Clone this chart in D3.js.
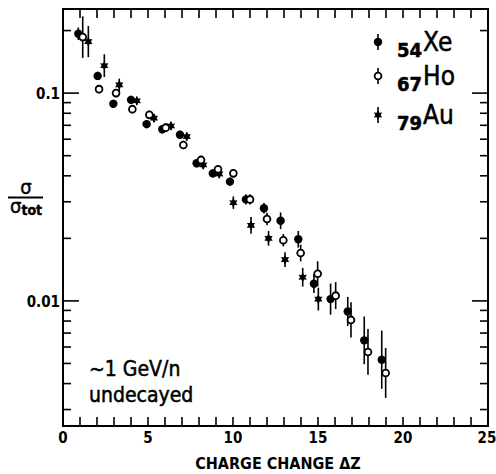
<!DOCTYPE html>
<html>
<head>
<meta charset="utf-8">
<script src="https://cdn.jsdelivr.net/npm/d3@7/dist/d3.min.js"></script>
<style>
  html, body { margin: 0; padding: 0; background: #fff; }
  svg { display: block; }
  text { font-family: "DejaVu Sans Condensed", "DejaVu Sans", sans-serif; fill: #000; }
</style>
</head>
<body>
<div id="chart"></div>
<script>
// Fragmentation cross sections vs charge change.
// Each series keeps its own ΔZ positions because the original offsets the
// three projectiles slightly to keep the symbols apart.

// --- data -----------------------------------------------------------------

const xeDZ  = [0.9, 2.04, 2.96, 4.0, 4.92, 5.84, 6.88, 7.86, 8.81, 9.82, 10.76, 11.82, 12.8, 13.84, 14.76, 15.74, 16.75, 17.72, 18.75];
const xeVal = [0.193, 0.121, 0.0888, 0.0928, 0.0709, 0.067, 0.063, 0.046, 0.0411, 0.0375, 0.0308, 0.0279, 0.0243, 0.0198, 0.0121, 0.0102, 0.0089, 0.00646, 0.00521];
const xeErr = [0.03, 0.02, 0.02, 0.02, 0.02, 0.02, 0.02, 0.02, 0.02, 0.02, 0.025, 0.025, 0.04, 0.04, 0.045, 0.075, 0.07, 0.115, 0.14]; // half-width, decades

const hoDZ  = [1.16, 2.12, 3.12, 4.08, 5.08, 6.04, 7.08, 8.12, 9.12, 10.02, 11.0, 12.0, 12.96, 13.98, 14.98, 16.04, 16.94, 17.94, 18.98];
const hoVal = [0.186, 0.1045, 0.1, 0.0837, 0.0786, 0.0682, 0.0563, 0.0477, 0.043, 0.0411, 0.0308, 0.0248, 0.0196, 0.017, 0.0135, 0.0106, 0.0081, 0.00568, 0.0045];
const hoErr = [0.1, 0.02, 0.02, 0.02, 0.02, 0.02, 0.02, 0.02, 0.02, 0.02, 0.025, 0.03, 0.03, 0.04, 0.06, 0.065, 0.085, 0.11, 0.12];

const auDZ  = [1.49, 2.43, 3.31, 4.34, 5.35, 6.35, 7.28, 8.25, 9.19, 10.02, 11.06, 12.09, 13.06, 14.1, 15.02];
const auVal = [0.177, 0.1355, 0.1096, 0.0918, 0.0758, 0.0695, 0.0618, 0.0451, 0.0408, 0.0297, 0.0231, 0.02, 0.0158, 0.013, 0.0102];
const auErr = [0.075, 0.055, 0.03, 0.02, 0.02, 0.02, 0.02, 0.02, 0.02, 0.03, 0.04, 0.035, 0.036, 0.045, 0.055];

const xTickLabels = [0, 5, 10, 15, 20, 25];
const xMinorTicks = d3.range(1, 25);
const yMajorTicks = [0.01, 0.1];
const yMajorLabels = ["0.01", "0.1"];
const yMinorTicks = [0.003, 0.004, 0.005, 0.006, 0.007, 0.008, 0.009,
                     0.02, 0.03, 0.04, 0.05, 0.06, 0.07, 0.08, 0.09, 0.2];

const legendZ    = ["54", "67", "79"];
const legendName = ["Xe", "Ho", "Au"];

// --- geometry -------------------------------------------------------------

const W = 496, H = 474;
const PLOT = { left: 63, right: 488, top: 9, bottom: 426 };

const x = d3.scaleLinear().domain([0, 25]).range([PLOT.left, PLOT.right]);
const y = d3.scaleLog().domain([0.0025, 0.254]).range([PLOT.bottom, PLOT.top]);

const svg = d3.select("#chart").append("svg")
    .attr("width", W)
    .attr("height", H)
    .attr("viewBox", `0 0 ${W} ${H}`);

// --- frame and ticks --------------------------------------------------------

const frame = svg.append("g").attr("stroke", "#000").attr("fill", "none");

frame.append("rect")
    .attr("x", PLOT.left)
    .attr("y", PLOT.top)
    .attr("width", PLOT.right - PLOT.left)
    .attr("height", PLOT.bottom - PLOT.top)
    .attr("stroke-width", 2);

// x ticks, bottom and top, pointing into the plot
xMinorTicks.forEach((t) => {
    frame.append("line")
        .attr("x1", x(t)).attr("x2", x(t))
        .attr("y1", PLOT.bottom).attr("y2", PLOT.bottom - 9)
        .attr("stroke-width", 1.6);
    frame.append("line")
        .attr("x1", x(t)).attr("x2", x(t))
        .attr("y1", PLOT.top).attr("y2", PLOT.top + 9)
        .attr("stroke-width", 1.6);
});

// y ticks, left and right
function yTick(v, len) {
    frame.append("line")
        .attr("x1", PLOT.left).attr("x2", PLOT.left + len)
        .attr("y1", y(v)).attr("y2", y(v))
        .attr("stroke-width", 1.6);
    frame.append("line")
        .attr("x1", PLOT.right).attr("x2", PLOT.right - len)
        .attr("y1", y(v)).attr("y2", y(v))
        .attr("stroke-width", 1.6);
}
yMinorTicks.forEach((v) => yTick(v, 8));
yMajorTicks.forEach((v) => yTick(v, 16));

// tick labels (the last one sits against the page edge, as in the scan)
svg.append("g")
    .selectAll("text")
    .data(xTickLabels)
    .enter()
    .append("text")
    .attr("x", (d) => Math.min(x(d), W - 9))
    .attr("y", 443)
    .attr("text-anchor", "middle")
    .attr("font-size", "15px")
    .attr("font-weight", "bold")
    .text((d) => d);

svg.append("g")
    .selectAll("text")
    .data(yMajorTicks)
    .enter()
    .append("text")
    .attr("x", PLOT.left - 3)
    .attr("y", (d) => y(d) + 6)
    .attr("text-anchor", "end")
    .attr("font-size", "15px")
    .attr("font-weight", "bold")
    .text((d, i) => yMajorLabels[i]);

// axis titles
svg.append("text")
    .attr("x", 278)
    .attr("y", 469)
    .attr("text-anchor", "middle")
    .attr("font-size", "16px")
    .attr("font-weight", "bold")
    .text("CHARGE CHANGE ΔZ");

const yl = svg.append("g");
yl.append("text")
    .attr("x", 26).attr("y", 194)
    .attr("text-anchor", "middle")
    .attr("font-size", "20px")
    .attr("stroke", "#000").attr("stroke-width", 0.4)
    .text("σ");
yl.append("line")
    .attr("x1", 8).attr("x2", 43)
    .attr("y1", 197.5).attr("y2", 197.5)
    .attr("stroke", "#000").attr("stroke-width", 2);
const tot = yl.append("text")
    .attr("x", 10).attr("y", 213)
    .attr("font-size", "20px")
    .attr("stroke", "#000").attr("stroke-width", 0.4);
tot.append("tspan").text("σ");
tot.append("tspan").attr("font-size", "14px").attr("font-weight", "bold").attr("dy", 2).text("tot");

// annotation
const note = svg.append("g")
    .attr("font-size", "21px")
    .attr("stroke", "#000")
    .attr("stroke-width", 0.5);
note.append("text").attr("x", 89).attr("y", 376).text("~1 GeV/n");
note.append("text").attr("x", 89).attr("y", 402).text("undecayed");

// --- markers ----------------------------------------------------------------

// six-pointed star used for the Au points
function hexagram(r) {
    const pts = [];
    for (let i = 0; i < 12; i++) {
        const a = -Math.PI / 2 + i * Math.PI / 6;
        const rr = i % 2 === 0 ? r : r * 0.55;
        pts.push([rr * Math.cos(a), rr * Math.sin(a)]);
    }
    return "M" + pts.map((p) => p.join(",")).join("L") + "Z";
}

function drawMarker(sel, kind) {
    if (kind === "filled") {
        sel.append("circle").attr("r", 4.2).attr("fill", "#000");
    } else if (kind === "open") {
        sel.append("circle").attr("r", 3.4)
            .attr("fill", "#fff").attr("stroke", "#000").attr("stroke-width", 1.8);
    } else {
        sel.append("path").attr("d", hexagram(4.8)).attr("fill", "#000");
    }
}

function drawSeries(dz, vals, errs, kind) {
    const pts = dz.map((d, i) => ({ dz: d, v: vals[i], e: errs[i] }));
    const g = svg.append("g");

    g.selectAll("line")
        .data(pts)
        .enter()
        .append("line")
        .attr("x1", (d) => x(d.dz))
        .attr("x2", (d) => x(d.dz))
        .attr("y1", (d) => y(d.v * Math.pow(10, d.e)))
        .attr("y2", (d) => y(d.v / Math.pow(10, d.e)))
        .attr("stroke", "#000")
        .attr("stroke-width", 1.6);

    g.selectAll("g")
        .data(pts)
        .enter()
        .append("g")
        .attr("transform", (d) => `translate(${x(d.dz)}, ${y(d.v)})`)
        .each(function () { drawMarker(d3.select(this), kind); });
}

drawSeries(auDZ, auVal, auErr, "star");
drawSeries(xeDZ, xeVal, xeErr, "filled");
drawSeries(hoDZ, hoVal, hoErr, "open");

// --- legend -----------------------------------------------------------------

const kinds = ["filled", "open", "star"];
const legendRowY = [42, 76, 115];

kinds.forEach((k, i) => {
    const g = svg.append("g").attr("transform", `translate(378, ${legendRowY[i]})`);
    g.append("line")
        .attr("y1", -8).attr("y2", 8)
        .attr("stroke", "#000").attr("stroke-width", 1.6);
    drawMarker(g, k);

    const t = svg.append("text")
        .attr("x", 397)
        .attr("y", legendRowY[i] + 15)
        .attr("stroke", "#000")
        .attr("stroke-width", 0.5);
    t.append("tspan").attr("font-size", "20px").attr("font-weight", "bold").text(legendZ[i]);
    t.append("tspan").attr("font-size", "26px").attr("dx", 1).attr("dy", -6).text(legendName[i]);
});
</script>
</body>
</html>
